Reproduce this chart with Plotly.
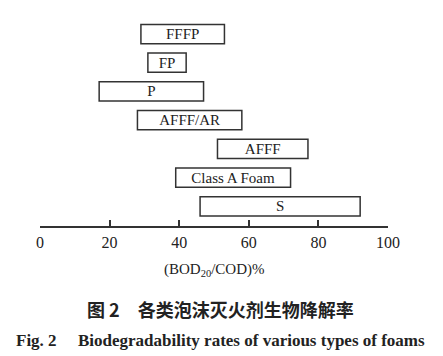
import plotly.graph_objects as go

categories = ["FFFP", "FP", "P", "AFFF/AR", "AFFF", "Class A Foam", "S"]
low = [29, 31, 17, 28, 51, 39, 46]
high = [53, 42, 47, 58, 77, 72, 92]
x_ticks = [0, 20, 40, 60, 80, 100]

x_title = "(BOD<sub>20</sub>/COD)%"
caption_cn = "图 2　各类泡沫灭火剂生物降解率"
caption_en_num = "Fig. 2"
caption_en = "Biodegradability rates of various types of foams"

W, H = 443, 356
ML, MR, MT, MB = 40, 55, 20, 130
pw = W - ML - MR
ph = H - MT - MB

def px_x(p):
    return (p - ML) / pw

def px_y(p):
    return (H - MB - p) / ph

serif = "Liberation Serif, Times New Roman, serif"
ink = "#222222"

fig = go.Figure()
fig.add_trace(go.Bar(
    y=categories,
    x=[h - l for l, h in zip(low, high)],
    base=low,
    orientation="h",
    width=0.67,
    marker=dict(color="white", line=dict(color="#333333", width=1.5)),
    text=categories,
    textposition="inside",
    insidetextanchor="middle",
    textangle=0,
    constraintext="none",
    textfont=dict(family=serif, size=15, color=ink),
    hoverinfo="skip",
))

fig.update_layout(
    width=W, height=H,
    margin=dict(l=ML, r=MR, t=MT, b=MB),
    plot_bgcolor="white", paper_bgcolor="white",
    showlegend=False,
    xaxis=dict(
        range=[0, 100], tickvals=x_ticks, ticktext=[str(v) for v in x_ticks],
        ticks="inside", ticklen=6, tickwidth=1.5, tickcolor="#333333",
        showline=True, linewidth=1.5, linecolor="#333333",
        showgrid=False, zeroline=False,
        tickfont=dict(family=serif, size=16, color=ink),
        ticklabelstandoff=1,
    ),
    yaxis=dict(
        type="category", categoryorder="array", categoryarray=categories,
        range=[6.686, -0.488], visible=False, showgrid=False, zeroline=False,
    ),
    annotations=[
        dict(text=x_title, xref="paper", yref="paper", x=0.5, y=px_y(270),
             xanchor="center", yanchor="middle", showarrow=False,
             font=dict(family=serif, size=15, color=ink)),
        dict(text=caption_cn, xref="paper", yref="paper", x=px_x(221), y=px_y(309),
             xanchor="center", yanchor="middle", showarrow=False,
             font=dict(family="Noto Sans CJK SC", size=18, color=ink, weight="bold")),
        dict(text=caption_en_num, xref="paper", yref="paper", x=px_x(14), y=px_y(340),
             xanchor="left", yanchor="middle", showarrow=False,
             font=dict(family=serif, size=17, color=ink, weight="bold")),
        dict(text=caption_en, xref="paper", yref="paper", x=px_x(76), y=px_y(340),
             xanchor="left", yanchor="middle", showarrow=False,
             font=dict(family=serif, size=17, color=ink, weight="bold")),
    ],
)

fig.write_html("out.html", config={"displayModeBar": False},
               post_script="document.body.style.margin='0';")
